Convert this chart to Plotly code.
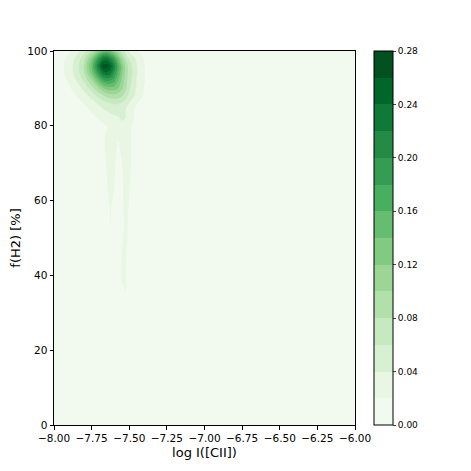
import plotly.graph_objects as go

# -----------------------------------------------------------------------------
# Density grid (log I([CII]) vs f(H2))
# -----------------------------------------------------------------------------

log_cii = [-8.0, -7.95, -7.9, -7.85, -7.8, -7.75, -7.7, -7.675, -7.65, -7.625,
           -7.6, -7.575, -7.55, -7.525, -7.5, -7.45, -7.4, -7.35, -6.0]

f_h2 = [0, 28, 34, 40, 46, 52, 58, 64, 70, 76, 80, 82, 84, 86, 88, 90, 92, 94, 96, 98, 100]

# one row per f_h2 value (bottom to top), one column per log_cii value
density = [
    [0, 0, 0, 0, 0, 0, 0, 0, 0, 0, 0, 0, 0, 0, 0, 0, 0, 0, 0],
    [0, 0, 0, 0, 0, 0, 0, 0, 0, 0.006, 0.003, 0.004, 0.012, 0.013, 0.007, 0, 0, 0, 0],
    [0, 0, 0, 0, 0, 0, 0, 0, 0.004, 0.009, 0.005, 0.006, 0.018, 0.0195, 0.010, 0, 0, 0, 0],
    [0, 0, 0, 0, 0, 0, 0, 0, 0.007, 0.012, 0.008, 0.009, 0.0205, 0.021, 0.013, 0.001, 0, 0, 0],
    [0, 0, 0, 0, 0, 0, 0, 0.002, 0.009, 0.015, 0.010, 0.010, 0.020, 0.0215, 0.015, 0.002, 0, 0, 0],
    [0, 0, 0, 0, 0, 0, 0, 0.003, 0.012, 0.0198, 0.013, 0.007, 0.017, 0.0225, 0.017, 0.003, 0, 0, 0],
    [0, 0, 0, 0, 0, 0, 0.001, 0.004, 0.015, 0.0215, 0.016, 0.009, 0.017, 0.023, 0.019, 0.004, 0, 0, 0],
    [0, 0, 0, 0, 0, 0, 0.002, 0.008, 0.019, 0.023, 0.020, 0.012, 0.018, 0.024, 0.021, 0.005, 0, 0, 0],
    [0, 0, 0, 0, 0, 0.002, 0.004, 0.012, 0.021, 0.025, 0.022, 0.016, 0.019, 0.025, 0.024, 0.006, 0, 0, 0],
    [0, 0, 0, 0, 0, 0.004, 0.008, 0.017, 0.023, 0.026, 0.024, 0.020, 0.027, 0.028, 0.024, 0.008, 0.002, 0, 0],
    [0, 0, 0, 0.001, 0.003, 0.006, 0.012, 0.017, 0.020, 0.025, 0.028, 0.030, 0.036, 0.033, 0.025, 0.010, 0.003, 0, 0],
    [0, 0.001, 0.002, 0.004, 0.008, 0.014, 0.022, 0.027, 0.031, 0.034, 0.036, 0.038, 0.042, 0.040, 0.032, 0.013, 0.004, 0.001, 0],
    [0, 0.001, 0.003, 0.007, 0.013, 0.022, 0.031, 0.036, 0.040, 0.043, 0.045, 0.046, 0.046, 0.040, 0.031, 0.015, 0.006, 0.002, 0],
    [0.001, 0.003, 0.007, 0.013, 0.021, 0.031, 0.043, 0.050, 0.056, 0.060, 0.062, 0.062, 0.058, 0.050, 0.039, 0.021, 0.010, 0.003, 0],
    [0.002, 0.006, 0.012, 0.020, 0.031, 0.047, 0.067, 0.076, 0.085, 0.090, 0.092, 0.090, 0.083, 0.070, 0.054, 0.033, 0.017, 0.005, 0],
    [0.003, 0.009, 0.017, 0.029, 0.045, 0.070, 0.101, 0.117, 0.128, 0.132, 0.130, 0.120, 0.105, 0.085, 0.064, 0.037, 0.019, 0.006, 0],
    [0.004, 0.012, 0.023, 0.040, 0.063, 0.097, 0.146, 0.170, 0.180, 0.178, 0.165, 0.140, 0.115, 0.090, 0.068, 0.039, 0.021, 0.007, 0],
    [0.005, 0.015, 0.029, 0.049, 0.078, 0.127, 0.196, 0.225, 0.235, 0.225, 0.195, 0.160, 0.125, 0.095, 0.071, 0.041, 0.021, 0.007, 0],
    [0.005, 0.015, 0.030, 0.050, 0.083, 0.142, 0.230, 0.265, 0.272, 0.250, 0.215, 0.170, 0.130, 0.095, 0.071, 0.041, 0.021, 0.007, 0],
    [0.004, 0.013, 0.026, 0.045, 0.073, 0.122, 0.195, 0.225, 0.230, 0.210, 0.180, 0.140, 0.105, 0.078, 0.058, 0.035, 0.019, 0.006, 0],
    [0.003, 0.009, 0.018, 0.032, 0.052, 0.082, 0.125, 0.145, 0.150, 0.135, 0.115, 0.090, 0.068, 0.050, 0.036, 0.021, 0.011, 0.004, 0],
]

x_ticks = [-8.0, -7.75, -7.5, -7.25, -7.0, -6.75, -6.5, -6.25, -6.0]
y_ticks = [0, 20, 40, 60, 80, 100]
cbar_ticks = [0.0, 0.04, 0.08, 0.12, 0.16, 0.20, 0.24, 0.28]

# -----------------------------------------------------------------------------
# Matplotlib-like "Greens", 14 filled levels
# -----------------------------------------------------------------------------

brewer_greens = ["#f7fcf5", "#e5f5e0", "#c7e9c0", "#a1d99b", "#74c476",
                 "#41ab5d", "#238b45", "#006d2c", "#00441b"]


def greens(t):
    pos = t * (len(brewer_greens) - 1)
    i = min(int(pos), len(brewer_greens) - 2)
    f = pos - i
    a = [int(brewer_greens[i][k:k + 2], 16) for k in (1, 3, 5)]
    b = [int(brewer_greens[i + 1][k:k + 2], 16) for k in (1, 3, 5)]
    c = [round(a[j] + (b[j] - a[j]) * f) for j in range(3)]
    return f"rgb({c[0]},{c[1]},{c[2]})"


n_bands = 14
colorscale = []
for i in range(n_bands):
    col = greens((i + 0.5) / n_bands)
    colorscale.append([i / n_bands, col])
    colorscale.append([(i + 1) / n_bands, col])

fig = go.Figure(
    go.Contour(
        x=log_cii,
        y=f_h2,
        z=density,
        colorscale=colorscale,
        zmin=0,
        zmax=0.28,
        contours=dict(start=0, end=0.28, size=0.02, coloring="fill"),
        line=dict(width=0, smoothing=1.0),
        colorbar=dict(
            x=1.063,
            xanchor="left",
            y=0.5,
            len=1.0,
            lenmode="fraction",
            ypad=0,
            xpad=0,
            thickness=19,
            outlinecolor="black",
            outlinewidth=1,
            tickvals=cbar_ticks,
            tickformat=".2f",
            ticks="outside",
            ticklen=3,
            tickfont=dict(family="DejaVu Sans", size=9, color="black"),
        ),
    )
)

# page body has an 8px default margin, so the figure is 455px inside a 471px window
fig.update_layout(
    width=455,
    height=455,
    margin=dict(l=46, r=108, t=43, b=38, autoexpand=False),
    plot_bgcolor="white",
    paper_bgcolor="white",
    font=dict(family="DejaVu Sans", color="black"),
)

fig.update_xaxes(
    range=[-8, -6],
    tickvals=x_ticks,
    tickformat=".2f",
    ticks="outside",
    ticklen=3.5,
    tickcolor="black",
    tickfont=dict(size=10.5),
    showline=True,
    linecolor="black",
    linewidth=1,
    mirror=True,
    showgrid=False,
    zeroline=False,
    automargin=False,
    title=dict(text="log I([CII])", font=dict(size=13), standoff=4),
)
fig.update_yaxes(
    range=[0, 100],
    tickvals=y_ticks,
    ticks="outside",
    ticklen=3.5,
    tickcolor="black",
    tickfont=dict(size=10.5),
    showline=True,
    linecolor="black",
    linewidth=1,
    mirror=True,
    showgrid=False,
    zeroline=False,
    automargin=False,
    title=dict(text="f(H2) [%]", font=dict(size=13), standoff=6),
)

fig.write_html("out.html")
